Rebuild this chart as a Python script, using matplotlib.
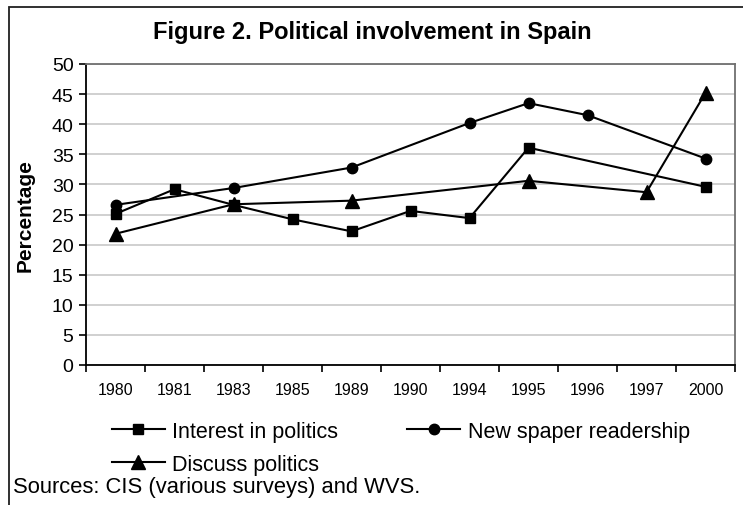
import numpy as np
import matplotlib
matplotlib.use("Agg")
import matplotlib.pyplot as plt
from matplotlib.patches import Rectangle

plt.rcParams['font.family'] = ['Liberation Sans', 'DejaVu Sans']

years = ["1980", "1981", "1983", "1985", "1989", "1990", "1994", "1995", "1996", "1997", "2000"]
interest = [25.1, 29.2, 26.6, 24.2, 22.2, 25.6, 24.4, 36.1, np.nan, np.nan, 29.6]
newspaper = [26.6, np.nan, 29.4, np.nan, 32.8, np.nan, 40.2, 43.5, 41.5, np.nan, 34.3]
discuss = [21.8, np.nan, 26.7, np.nan, 27.3, np.nan, np.nan, 30.6, np.nan, 28.7, 45.2]
labels = ["Interest in politics", "New spaper readership", "Discuss politics"]
yticks = [0, 5, 10, 15, 20, 25, 30, 35, 40, 45, 50]

W, H = 743, 506
fig = plt.figure(figsize=(W / 100, H / 100), dpi=100)
L, R, T, B = 86, 735, 65, 366
ax = fig.add_axes([L / W, 1 - B / H, (R - L) / W, (B - T) / H])

x = np.arange(len(years))

def plot_series(vals, marker, ms, label):
    v = np.array(vals, dtype=float)
    m = ~np.isnan(v)
    return ax.plot(x[m], v[m], color='black', lw=1.5, marker=marker, ms=ms,
                   mfc='black', mec='black', label=label)[0]

h1 = plot_series(interest, 's', 7.8, labels[0])
h2 = plot_series(newspaper, 'o', 7.5, labels[1])
h3 = plot_series(discuss, '^', 9.5, labels[2])

ax.set_xlim(-0.5, len(years) - 0.5)
ax.set_ylim(0, 50)
ax.set_yticks(yticks)
ax.set_yticklabels([str(t) for t in yticks], fontsize=14)
ax.yaxis.grid(True, color='#c8c8c8', lw=1.2)
ax.set_axisbelow(True)

ax.set_xticks(np.arange(-0.5, len(years) + 0.5, 1.0))
ax.set_xticklabels([])
ax.set_xticks(x, minor=True)
ax.set_xticklabels(years, minor=True, fontsize=11.5)
ax.tick_params(axis='x', which='major', direction='out', length=5, width=1.2, color='black')
ax.tick_params(axis='x', which='minor', length=0, pad=12)
ax.tick_params(axis='y', direction='out', length=5, width=1.2, pad=4)

for s in ['left', 'bottom']:
    ax.spines[s].set_color('black')
    ax.spines[s].set_linewidth(1.3)
for s in ['top', 'right']:
    ax.spines[s].set_color('#707070')
    ax.spines[s].set_linewidth(1.3)

ax.set_ylabel("Percentage", fontsize=15, fontweight='bold')
ax.yaxis.set_label_coords((35 - L) / (R - L), 0.5)

fig.text(372 / W, 1 - 32 / H, "Figure 2. Political involvement in Spain",
         ha='center', va='center', fontsize=17, fontweight='bold')

leg = fig.legend(handles=[h1, h3, h2], labels=[labels[0], labels[2], labels[1]],
                 loc='upper left', bbox_to_anchor=(112 / W, 1 - 422 / H), ncol=2,
                 frameon=False, fontsize=15.5, handlelength=2.45, handletextpad=0.36,
                 columnspacing=3.2, labelspacing=0.55, borderpad=0, borderaxespad=0)

fig.text(13 / W, 1 - 488 / H, "Sources: CIS (various surveys) and WVS.",
         ha='left', va='center', fontsize=15.8)

fig.patches.append(Rectangle((8.5 / W, -0.05), 1.1, 1 - 8 / H + 0.05,
                             transform=fig.transFigure, fill=False,
                             edgecolor='#202020', lw=1.3))

fig.savefig("out.png", dpi=100)
